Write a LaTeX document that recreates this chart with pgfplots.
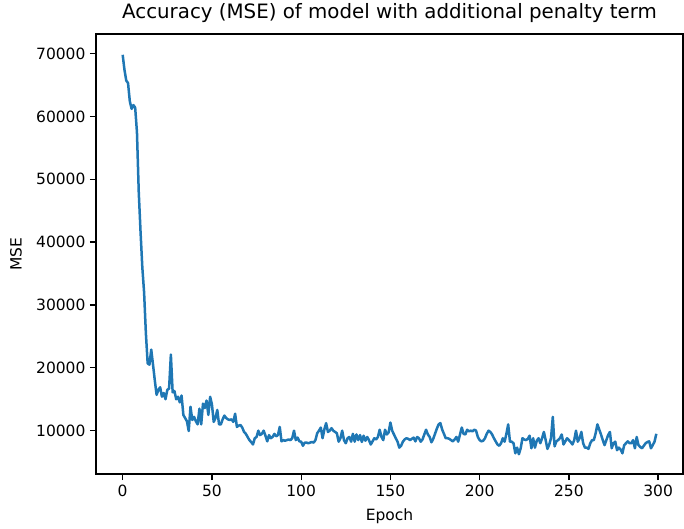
\documentclass[border=0pt]{standalone}
\usepackage{pgfplots}
\pgfplotsset{compat=1.18}
\usepackage{pgfplotstable}
\usepackage{fontspec}
\setmainfont{DejaVu Sans}
\usetikzlibrary{calc}
\definecolor{mplblue}{HTML}{1F77B4}

\pgfplotstableread{
epoch mse
0 69800
1 67400
2 65700
3 65300
4 62400
5 61200
6 61800
7 61400
8 57500
9 48000
10 41700
11 36000
12 32000
13 25500
14 20700
15 20500
16 22900
17 20500
18 18000
19 15700
20 16500
21 16900
22 15400
23 16000
24 15000
25 16500
26 16700
27 22100
28 16100
29 16300
30 15000
31 15400
32 14500
33 15600
34 12500
35 12000
36 11500
37 9950
38 13800
39 11700
40 12200
41 11500
42 11000
43 13500
44 11000
45 14300
46 13600
47 14800
48 12500
49 15400
50 14200
51 11400
52 12000
53 13300
54 11000
55 11000
56 11800
57 12400
58 12000
59 11800
60 11700
61 11800
62 11400
63 12700
64 10600
65 10800
66 10900
67 10500
68 9800
69 9500
70 9000
71 8500
72 8200
73 7800
74 8800
75 9000
76 10000
77 9300
78 9500
79 10000
80 9200
81 8300
82 9300
83 8800
84 9000
85 9500
86 9100
87 9300
88 10600
89 8300
90 8500
91 8400
92 8500
93 8600
94 8500
95 8800
96 10000
97 8500
98 8900
99 8300
100 8250
101 7600
102 8100
103 8100
104 8000
105 8100
106 8200
107 8100
108 8500
109 9600
110 10000
111 10500
112 8800
113 10200
114 11200
115 9800
116 10000
117 10400
118 10000
119 9800
120 9600
121 8250
122 8800
123 10000
124 8500
125 8000
126 8800
127 9000
128 8250
129 9500
130 8250
131 9400
132 8500
133 9300
134 8200
135 9200
136 8400
137 9000
138 8500
139 7800
140 8300
141 8800
142 8600
143 9000
144 10150
145 9000
146 8500
147 10150
148 9400
149 9700
150 11300
151 10000
152 9400
153 8800
154 8250
155 7300
156 7600
157 8250
158 8600
159 8800
160 8700
161 8500
162 8700
163 8900
164 8300
165 9000
166 8800
167 8250
168 8600
169 9400
170 10150
171 9400
172 9000
173 8150
174 8700
175 9500
176 10300
177 11000
178 11200
179 10200
180 9500
181 8800
182 8800
183 8700
184 8500
185 8300
186 8600
187 9000
188 8250
189 9400
190 10500
191 9500
192 9400
193 10150
194 9900
195 10000
196 9900
197 10150
198 10000
199 9000
200 8500
201 8300
202 8400
203 8800
204 9500
205 10000
206 9800
207 9400
208 8800
209 8300
210 7800
211 7600
212 8000
213 8800
214 8250
215 9500
216 11000
217 8250
218 8250
219 8000
220 6400
221 7300
222 6250
223 7200
224 8800
225 8600
226 8500
227 8700
228 9200
229 7200
230 8800
231 7300
232 8400
233 8800
234 8000
235 8800
236 9800
237 8500
238 7100
239 7800
240 8800
241 12200
242 7500
243 8300
244 8500
245 8800
246 9400
247 7800
248 8300
249 8800
250 8500
251 8200
252 7800
253 8500
254 10000
255 8250
256 8800
257 9800
258 8000
259 7300
260 7300
261 7100
262 8000
263 8500
264 8500
265 9600
266 11000
267 10200
268 9400
269 8500
270 7700
271 8500
272 9300
273 9800
274 7200
275 8000
276 8250
277 6900
278 7300
279 7000
280 6400
281 7700
282 8000
283 8300
284 8000
285 8000
286 8500
287 7200
288 9000
289 7700
290 7400
291 7200
292 7600
293 8000
294 8200
295 8300
296 7200
297 7700
298 8250
299 9500
}\msedata

\begin{document}
\begin{tikzpicture}
\begin{axis}[
  scale only axis,
  width=587pt, height=440pt,
  xmin=-14.95, xmax=313.95,
  ymin=3100, ymax=73100,
  xtick={0,50,100,150,200,250,300},
  ytick={10000,20000,30000,40000,50000,60000,70000},
  scaled y ticks=false,
  scaled x ticks=false,
  tick align=outside,
  tick pos=left,
  major tick length=6pt,
  every tick/.style={black, line width=1.3pt},
  axis line style={line width=1.3pt},
  /pgf/number format/.cd, fixed, set thousands separator={}, assume math mode=true,
  /pgfplots/.cd,
  tick label style={font=\fontsize{15.5}{18}\selectfont},
  xticklabel style={yshift=-1pt},
  yticklabel style={xshift=-1pt},
  label style={font=\fontsize{15.5}{18}\selectfont},
  xlabel={Epoch},
  ylabel={MSE},
  xlabel style={at={(axis description cs:0.5,-0.0955)}, anchor=center},
  ylabel style={at={(axis description cs:-0.1363,0.5)}, anchor=center, rotate=0},
  title={Accuracy (MSE) of model with additional penalty term},
  title style={font=\fontsize{19.8}{22}\selectfont, at={(axis description cs:0.5,1.022)}, anchor=base},
]
\addplot[mplblue, line width=2.5pt, line join=round, mark=none] table[x=epoch, y=mse] {\msedata};
\end{axis}
\path ($(current axis.south west)+(-96pt,-54pt)$) rectangle ($(current axis.north east)+(1pt,32pt)$);
\end{tikzpicture}
\end{document}
